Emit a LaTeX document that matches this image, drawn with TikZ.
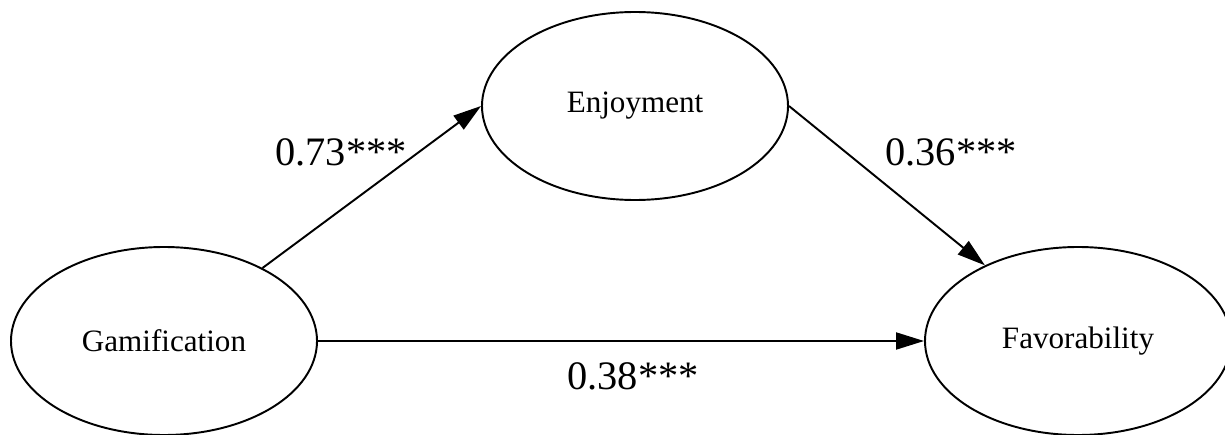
\documentclass[tikz,border=0pt]{standalone}
\usepackage{fontspec}
\setmainfont{Liberation Serif}
\usetikzlibrary{shapes,arrows.meta,positioning}

\begin{document}
\begin{tikzpicture}[
    construct/.style={ellipse, draw, line width=1.1pt, minimum width=6.12cm, minimum height=3.76cm, font=\fontsize{17.7}{20}\selectfont},
    coef/.style={font=\fontsize{23}{26}\selectfont},
    arrow/.style={line width=1.1pt,-{Triangle[length=5.6mm,width=3.4mm]}}
]
    \useasboundingbox (0,0) rectangle (24.5,8.68);

    \node [construct] (gam) at (3.28,1.86) {Gamification};
    \node [construct] (enj) at (12.70,6.56) {Enjoyment};
    \node [construct] (fav) at (21.56,1.86) {Favorability};

    \node [coef] (b1) at (6.82,5.64) {0.73***};
    \node [coef] (b2) at (19.02,5.64) {0.36***};
    \node [coef] (b3) at (12.66,1.16) {0.38***};

    \draw [arrow] (gam) -- (enj.west);
    \draw [arrow] (enj.east) -- (fav);
    \draw [arrow] (gam) -- (fav);
\end{tikzpicture}
\end{document}
